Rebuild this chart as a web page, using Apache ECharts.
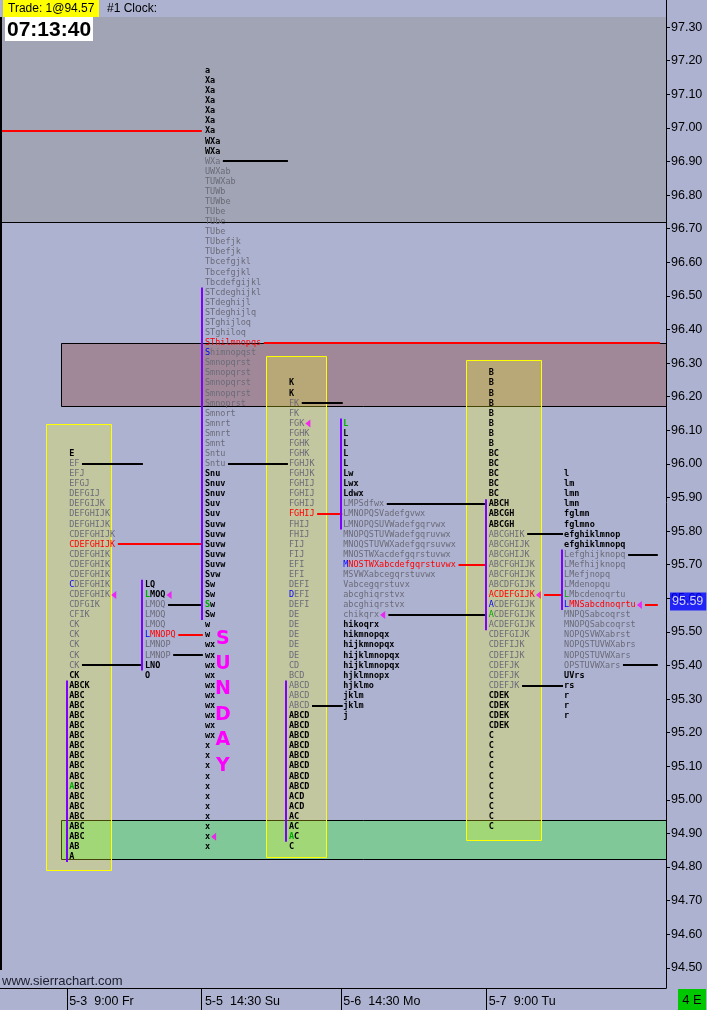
<!DOCTYPE html>
<html><head><meta charset="utf-8">
<script src="https://cdn.jsdelivr.net/npm/echarts@6/dist/echarts.min.js"></script>
<style>html,body{margin:0;padding:0;background:#adb2d0;}#c{width:707px;height:1010px;}</style>
</head><body><div id="c"></div>
<script>
// ---------------- DATA ----------------
const TICK = 0.03;                 // TPO row size (price)
const Y_MIN = 94.44, Y_MAX = 97.33; // visible price range
const X_MAX = 130;                 // time columns

const yTickLabels = ['94.50','94.60','94.70','94.80','94.90','95.00','95.10','95.20','95.30','95.40',
  '95.50','95.60','95.70','95.80','95.90','96.00','96.10','96.20','96.30','96.40','96.50','96.60',
  '96.70','96.80','96.90','97.00','97.10','97.20','97.30'];

const sessionLabels = ['5-3  9:00 Fr','5-5  14:30 Su','5-6  14:30 Mo','5-7  9:00 Tu'];
const sessionCols = [13.5, 40.0, 67.0, 95.4];
const sessionTickCols = [13.05, 39.25, 66.55, 94.9];

const lastTrade = 94.57;
const lastPrice = 95.59;

// profile A : 5-3 day
const profA_rows = ['E','EF','EFJ','EFGJ','DEFGIJ','DEFGIJK','DEFGHIJK','DEFGHIJK','CDEFGHIJK','CDEFGHIJK',
  'CDEFGHIK','CDEFGHIK','CDEFGHIK','CDEFGHIK','CDEFGHIK','CDFGIK','CFIK','CK','CK','CK','CK','CK','CK',
  'ABCK','ABC','ABC','ABC','ABC','ABC','ABC','ABC','ABC','ABC','ABC','ABC','ABC','ABC','ABC','ABC','AB','A'];
// profile B : 5-3 evening
const profB_rows = ['LQ','LMOQ','LMOQ','LMOQ','LMOQ','LMNOPQ','LMNOP','LMNOP','LNO','O'];
// profile C : Sunday
const profC_rows = ['a','Xa','Xa','Xa','Xa','Xa','Xa','WXa','WXa','WXa','UWXab','TUWXab','TUWb','TUWbe',
  'TUbe','TUbe','TUbe','TUbefjk','TUbefjk','Tbcefgjkl','Tbcefgjkl','Tbcdefgijkl','STcdeghijkl','STdeghijl',
  'STdeghijlq','STghijloq','STghiloq','SThilmnopqs','Shimnopqst','Smnopqrst','Smnopqrst','Smnopqrst',
  'Smnopqrst','Smnoprst','Smnort','Smnrt','Smnrt','Smnt','Sntu','Sntu','Snu','Snuv','Snuv','Suv','Suv',
  'Suvw','Suvw','Suvw','Suvw','Suvw','Svw','Sw','Sw','Sw','Sw','w','w','wx','wx','wx','wx','wx','wx',
  'wx','wx','wx','wx','x','x','x','x','x','x','x','x','x','x','x'];
// profile D : 5-6 day
const profD_rows = ['K','K','FK','FK','FGK','FGHK','FGHK','FGHK','FGHJK','FGHJK','FGHIJ','FGHIJ','FGHIJ',
  'FGHIJ','FHIJ','FHIJ','FIJ','FIJ','EFI','EFI','DEFI','DEFI','DEFI','DE','DE','DE','DE','DE','CD','BCD',
  'ABCD','ABCD','ABCD','ABCD','ABCD','ABCD','ABCD','ABCD','ABCD','ABCD','ABCD','ACD','ACD','AC','AC','AC','C'];
// profile E : 5-6 evening
const profE_rows = ['L','L','L','L','L','Lw','Lwx','Ldwx','LMPSdfwx','LMNOPQSVadefgvwx','LMNOPQSUVWadefgqrvwx',
  'MNOPQSTUVWadefgqruvwx','MNOQSTUVWXadefgqrsuvwx','MNOSTWXacdefgqrstuvwx','MNOSTWXabcdefgqrstuvwx',
  'MSVWXabcegqrstuvwx','Vabcegqrstuvx','abcghiqrstvx','abcghiqrstvx','chikqrx','hikoqrx','hikmnopqx',
  'hijkmnopqx','hijklmnopqx','hijklmnopqx','hjklmnopx','hjklmo','jklm','jklm','j'];
// profile F : 5-7 day
const profF_rows = ['B','B','B','B','B','B','B','B','BC','BC','BC','BC','BC','ABCH','ABCGH','ABCGH','ABCGHIK',
  'ABCGHIJK','ABCGHIJK','ABCFGHIJK','ABCFGHIJK','ABCDFGIJK','ACDEFGIJK','ACDEFGIJK','ACDEFGIJK','ACDEFGIJK',
  'CDEFGIJK','CDEFIJK','CDEFIJK','CDEFJK','CDEFJK','CDEFJK','CDEK','CDEK','CDEK','CDEK',
  'C','C','C','C','C','C','C','C','C','C'];
// profile G : 5-7 evening
const profG_rows = ['l','lm','lmn','lmn','fglmn','fglmno','efghiklmnop','efghiklmnopq','Lefghijknopq','LMefhijknopq',
  'LMefjnopq','LMdenopqu','LMbcdenoqrtu','LMNSabcdnoqrtu','MNPQSabcoqrst','MNOPQSabcoqrst','NOPQSVWXabrst',
  'NOPQSTUVWXabrs','NOPQSTUVWXars','OPSTUVWXars','UVrs','rs','r','r','r'];

const profileRows   = [profA_rows, profB_rows, profC_rows, profD_rows, profE_rows, profF_rows, profG_rows];
const profileCols   = [13.5, 28.3, 40.0, 56.4, 67.0, 95.4, 110.1];
const profileTops   = [96.03, 95.64, 97.17, 96.24, 96.12, 96.27, 95.97];
const profileVA     = [[1,21],[2,7],[9,39],[2,32],[8,19],[16,31],[8,19]];
const profilePOC    = [9, 5, 27, 13, 14, 22, 13];
const profileIB     = [[23,40],[0,8],[22,54],[30,45],[0,10],[13,25],[8,13]];
const profileSpecial= [[[13,'blue'],[33,'green']],[[1,'green'],[5,'blue']],[[28,'blue'],[53,'green']],
  [[21,'blue'],[45,'green']],[[0,'green'],[14,'blue']],[[23,'blue'],[24,'green']],[[12,'green'],[13,'blue']]];
const profileMarker = [14, 1, 76, 4, 19, 22, 13];
// end columns of VAH / POC / VAL extension lines
const profileLineEnds = [[27.9,39.4,27.9],[39.4,39.6,39.6],[56.2,128.8,56.2],[66.9,66.8,66.9],
  [95.0,95.0,95.0],[109.9,109.7,109.9],[128.4,128.4,128.4]];
// earlier naked POC
const priorLineStart = [0], priorLineEnd = [39.4], priorLinePrice = [96.99];

// horizontal zones
const zoneCols    = [0, 11.9, 11.9];
const zoneTops    = [Y_MAX, 96.36, 94.94];
const zoneBottoms = [96.72, 96.17, 94.82];
const zoneKinds   = ['gray','pink','green'];

// day-session boxes
const dayBoxLeft   = [9.0, 51.9, 91.0];
const dayBoxRight  = [21.7, 63.6, 105.6];
const dayBoxTop    = [96.12, 96.32, 96.31];
const dayBoxBottom = [94.79, 94.83, 94.88];

const noteText = 'SUNDAY', noteCol = 43.5, notePrice = 95.48;

// ---------------- STYLE ----------------
const BG = '#adb2d0';
const TXT_COLOR = {out:'#000000', va:'#6b6b78', poc:'#ff0000'};
const SPECIAL = {blue:'#0000ff', green:'#00aa00'};
const ZONE_FILL = {gray:'#a0a4b4', pink:'#a08898', green:'#80c898'};
const FPX = 8.5;
const MONO = '"DejaVu Sans Mono", monospace';

// ---------------- BUILD ----------------
const textItems = [], lineItems = [], ibItems = [], markerItems = [];
profileRows.forEach((rows, p) => {
  const col = profileCols[p], top = profileTops[p];
  const price = i => +(top - i * TICK).toFixed(2);
  rows.forEach((t, i) => {
    let kind = 'out';
    if (i >= profileVA[p][0] && i <= profileVA[p][1]) kind = 'va';
    if (i === profilePOC[p]) kind = 'poc';
    const sp = profileSpecial[p].find(s => s[0] === i);
    textItems.push({col, price: price(i), text: t, kind, sp: sp ? sp[1] : null});
  });
  const mk = profileMarker[p];
  markerItems.push([col + rows[mk].length + 0.7, price(mk)]);
  const rowsL = [profileVA[p][0], profilePOC[p], profileVA[p][1]];
  const kinds = ['va', 'poc', 'va'];
  rowsL.forEach((r, k) => {
    const start = col + rows[r].length + 0.5 + (r === mk ? 1.3 : 0);
    lineItems.push({x1: start, x2: profileLineEnds[p][k], price: price(r), kind: kinds[k]});
  });
  ibItems.push({col, top: price(profileIB[p][0]) + TICK / 2, bottom: price(profileIB[p][1]) - TICK / 2});
});
priorLinePrice.forEach((pr, i) => lineItems.push({x1: priorLineStart[i], x2: priorLineEnd[i], price: pr, kind: 'poc'}));

const zones = zoneKinds.map((k, i) => ({col: zoneCols[i], top: zoneTops[i], bottom: zoneBottoms[i], kind: k}));
const boxes = dayBoxLeft.map((l, i) => ({l, r: dayBoxRight[i], t: dayBoxTop[i], b: dayBoxBottom[i]}));

const chart = echarts.init(document.getElementById('c'), null, {width: 707, height: 1010});

const option = {
  backgroundColor: BG,
  animation: false,
  grid: {left: 0, right: 41, top: 17, bottom: 22},
  xAxis: {
    type: 'value', min: 0, max: X_MAX, position: 'bottom',
    axisLine: {show: true, onZero: false, lineStyle: {color: '#000', width: 1}},
    axisTick: {show: true, customValues: sessionTickCols, length: 22, inside: false, lineStyle: {color: '#000'}},
    axisLabel: {show: true, customValues: sessionCols, align: 'left', margin: 7, color: '#000',
      fontSize: 12.5, fontFamily: 'Liberation Sans',
      formatter: v => { const i = sessionCols.findIndex(c => Math.abs(c - v) < 0.01); return i >= 0 ? sessionLabels[i] : ''; }},
    splitLine: {show: false}
  },
  yAxis: {
    type: 'value', position: 'right', min: Y_MIN, max: Y_MAX,
    axisLine: {show: true, onZero: false, lineStyle: {color: '#000', width: 1}},
    axisTick: {show: true, customValues: yTickLabels.map(Number), length: 4, lineStyle: {color: '#000'}},
    axisLabel: {show: true, customValues: yTickLabels.map(Number), margin: 5, color: '#000',
      fontSize: 12.5, fontFamily: 'Liberation Sans', formatter: v => v.toFixed(2)},
    splitLine: {show: false}
  },
  series: [
    { // zones
      type: 'custom', z: 1, silent: true,
      data: zones.map(z => [z.col, z.top, z.bottom]),
      renderItem: (params, api) => {
        const z = zones[params.dataIndex];
        const p1 = api.coord([z.col, z.top]), p2 = api.coord([X_MAX, z.bottom]);
        const x1 = Math.round(p1[0]), y1 = Math.round(p1[1]), x2 = Math.round(p2[0]), y2 = Math.round(p2[1]);
        const ch = [{type: 'rect', shape: {x: x1, y: y1, width: x2 - x1, height: y2 - y1}, style: {fill: ZONE_FILL[z.kind]}}];
        if (z.kind === 'gray') {
          ch.push({type: 'line', shape: {x1: x1, y1: y2 + 0.5, x2: x2, y2: y2 + 0.5}, style: {stroke: '#000', lineWidth: 1}});
        } else {
          ch.push({type: 'polyline', shape: {points: [[x2, y1 + 0.5], [x1 + 0.5, y1 + 0.5], [x1 + 0.5, y2 - 0.5], [x2, y2 - 0.5]]},
            style: {stroke: '#000', lineWidth: 1, fill: null}});
        }
        return {type: 'group', children: ch};
      }
    },
    { // day session boxes
      type: 'custom', z: 2, silent: true,
      data: boxes.map(b => [b.l, b.t, b.r, b.b]),
      renderItem: (params, api) => {
        const b = boxes[params.dataIndex];
        const p1 = api.coord([b.l, b.t]), p2 = api.coord([b.r, b.b]);
        const x1 = Math.round(p1[0]) + 0.5, y1 = Math.round(p1[1]) + 0.5, x2 = Math.round(p2[0]) + 0.5, y2 = Math.round(p2[1]) + 0.5;
        return {type: 'rect', shape: {x: x1, y: y1, width: x2 - x1, height: y2 - y1},
          style: {fill: 'rgba(255,255,30,0.27)', stroke: '#ffff00', lineWidth: 1}};
      }
    },
    { // VAH / POC / VAL lines
      type: 'custom', z: 3, silent: true,
      data: lineItems.map(d => [d.x1, d.price, d.x2]),
      renderItem: (params, api) => {
        const d = lineItems[params.dataIndex];
        const a = api.coord([d.x1, d.price]), b = api.coord([d.x2, d.price]);
        const y = Math.round(a[1]);
        return {type: 'line', shape: {x1: a[0], y1: y, x2: b[0], y2: y},
          style: {stroke: d.kind === 'poc' ? '#ff0000' : '#000000', lineWidth: 2}};
      }
    },
    { // initial balance bars
      type: 'custom', z: 3, silent: true,
      data: ibItems.map(d => [d.col, d.top, d.bottom]),
      renderItem: (params, api) => {
        const d = ibItems[params.dataIndex];
        const a = api.coord([d.col, d.top]), b = api.coord([d.col, d.bottom]);
        const x = Math.round(a[0] - 2.5);
        return {type: 'line', shape: {x1: x, y1: a[1], x2: x, y2: b[1]}, style: {stroke: '#8000ff', lineWidth: 2}};
      }
    },
    { // TPO letters
      type: 'custom', z: 5, silent: true,
      data: textItems.map(d => [d.col, d.price]),
      renderItem: (params, api) => {
        const d = textItems[params.dataIndex];
        const pt = api.coord([d.col, d.price]);
        const font = (d.kind === 'out' ? 'bold ' : '') + FPX + 'px ' + MONO;
        const style = {text: d.text, font: font, fill: TXT_COLOR[d.kind], align: 'left', verticalAlign: 'middle'};
        if (d.sp) {
          style.text = '{s|' + d.text[0] + '}' + d.text.slice(1);
          style.rich = {s: {fill: SPECIAL[d.sp], font: font}};
        }
        return {type: 'text', x: pt[0], y: pt[1], style};
      }
    },
    { // SUNDAY note
      type: 'custom', z: 5, silent: true,
      data: [[noteCol, notePrice]],
      renderItem: (params, api) => {
        const pt = api.coord([noteCol, notePrice]);
        return {type: 'text', x: pt[0], y: pt[1] - 12.7,
          style: {text: noteText.split('').join('\n'), font: 'bold 19px "DejaVu Sans", sans-serif', fill: '#ff00ff',
            lineHeight: 25.4, align: 'center', verticalAlign: 'top'}};
      }
    },
    { // close markers
      type: 'scatter', z: 6, silent: true, clip: false,
      data: markerItems, symbol: 'triangle', symbolSize: [8, 5], symbolRotate: 90,
      itemStyle: {color: '#ff00ff'}
    },
    { // last price tag
      type: 'scatter', z: 10, silent: true, clip: false,
      data: [[X_MAX, lastPrice]], symbolSize: 0,
      label: {show: true, position: 'right', distance: 4, formatter: lastPrice.toFixed(2),
        color: '#ffffff', backgroundColor: '#0000ff', padding: [3, 3, 2, 2],
        fontSize: 12.5, fontFamily: 'Liberation Sans'}
    }
  ],
  graphic: [
    {type: 'rect', shape: {x: 3, y: 0, width: 96, height: 17}, style: {fill: '#ffff00'}, z: 20},
    {type: 'text', x: 8, y: 9, style: {text: 'Trade: 1@' + lastTrade.toFixed(2), font: '12px "Liberation Sans"', fill: '#000', verticalAlign: 'middle'}, z: 21},
    {type: 'text', x: 107, y: 9, style: {text: '#1 Clock:', font: '12px "Liberation Sans"', fill: '#000', verticalAlign: 'middle'}, z: 21},
    {type: 'rect', shape: {x: 5, y: 17, width: 88, height: 24}, style: {fill: '#ffffff'}, z: 20},
    {type: 'text', x: 7, y: 30, style: {text: '07:13:40', font: 'bold 21px "Liberation Sans"', fill: '#000', verticalAlign: 'middle'}, z: 21},
    {type: 'rect', shape: {x: 0, y: 17, width: 2, height: 953}, style: {fill: '#000'}, z: 20},
    {type: 'line', shape: {x1: 666.5, y1: 0, x2: 666.5, y2: 17}, style: {stroke: '#000', lineWidth: 1}, z: 20},
    {type: 'text', x: 2, y: 981, style: {text: 'www.sierrachart.com', font: '13px "Liberation Sans"', fill: '#202030', verticalAlign: 'middle'}, z: 21},
    {type: 'rect', shape: {x: 678, y: 989, width: 28, height: 21}, style: {fill: '#00c800'}, z: 20},
    {type: 'text', x: 692, y: 1000, style: {text: '4 E', font: '13px "Liberation Sans"', fill: '#000', align: 'center', verticalAlign: 'middle'}, z: 21}
  ]
};
chart.setOption(option);
</script>
</body></html>
